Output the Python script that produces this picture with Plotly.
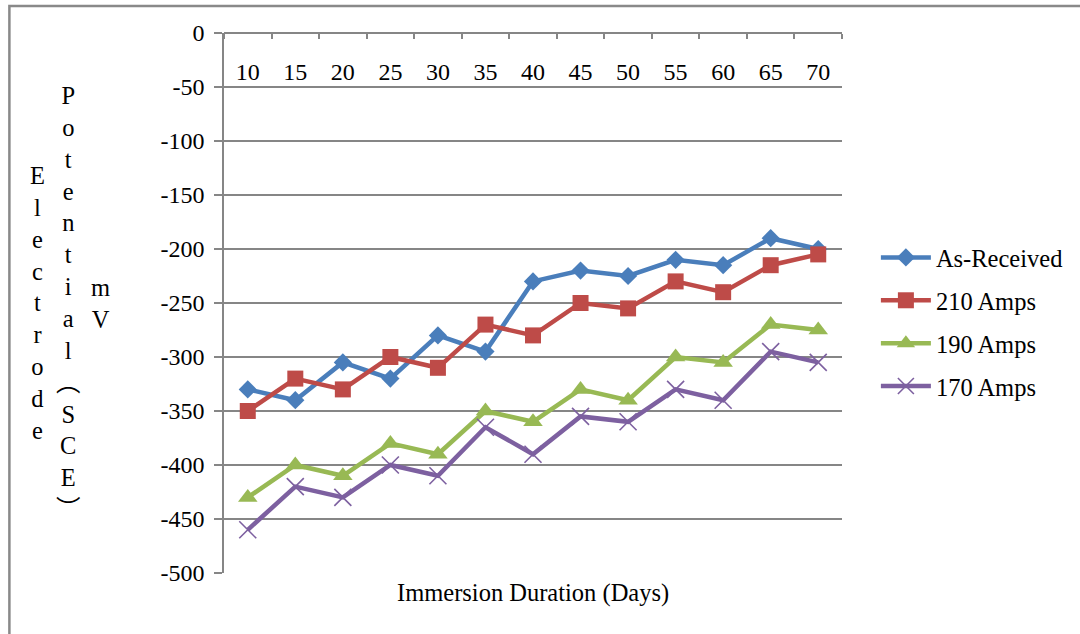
import plotly.graph_objects as go

days = ["10", "15", "20", "25", "30", "35", "40", "45", "50", "55", "60", "65", "70"]
as_received = [-330, -340, -305, -320, -280, -295, -230, -220, -225, -210, -215, -190, -200]
amps_210 = [-350, -320, -330, -300, -310, -270, -280, -250, -255, -230, -240, -215, -205]
amps_190 = [-430, -400, -410, -380, -390, -350, -360, -330, -340, -300, -305, -270, -275]
amps_170 = [-460, -420, -430, -400, -410, -365, -390, -355, -360, -330, -340, -295, -305]
y_ticks = [0, -50, -100, -150, -200, -250, -300, -350, -400, -450, -500]

FONT = "Liberation Serif, Times New Roman, serif"
GRID = "#868686"

series = [
    ("As-Received", as_received, "#4A7EBB", dict(symbol="diamond", size=14)),
    ("210 Amps", amps_210, "#BE4B48", dict(symbol="square", size=16)),
    ("190 Amps", amps_190, "#98B954", dict(symbol="triangle-up", size=17)),
    ("170 Amps", amps_170, "#7D60A0", dict(symbol="x-thin", size=17)),
]

fig = go.Figure()
for i, (name, vals, color, mk) in enumerate(series):
    marker = dict(color=color, **mk)
    if mk["symbol"] == "x-thin":
        marker["line"] = dict(color=color, width=1.6)
    fig.add_trace(go.Scatter(
        x=days, y=vals, name=name, mode="lines+markers",
        line=dict(color=color, width=4.5),
        marker=marker, legendgroup=f"g{i}",
    ))

fig.update_layout(
    width=1080, height=634,
    margin=dict(l=224, r=236, t=33, b=61),
    paper_bgcolor="white", plot_bgcolor="white",
    font=dict(family=FONT, size=24, color="black"),
    showlegend=True,
    legend=dict(x=(878 - 224) / 620, xanchor="left", y=(573 - 322) / 540, yanchor="middle",
                font=dict(family=FONT, size=24.5), tracegroupgap=8,
                itemwidth=50, bgcolor="rgba(0,0,0,0)"),
    xaxis=dict(
        type="category", anchor="free", position=1.0, side="bottom",
        range=[-0.5, 12.5],
        showline=True, linecolor=GRID, linewidth=1.5,
        ticks="outside", tickson="boundaries", ticklen=5, tickcolor=GRID, tickwidth=1.5,
        showgrid=False, zeroline=False, tickfont=dict(family=FONT, size=24),
        ticklabelstandoff=17,
    ),
    yaxis=dict(
        range=[-500, 0], tickvals=y_ticks, ticktext=[str(v) for v in y_ticks],
        showline=True, linecolor=GRID, linewidth=1.5,
        showgrid=True, gridcolor=GRID, gridwidth=1.5, zeroline=False,
        ticks="outside", ticklen=8, tickcolor=GRID, tickwidth=1.5,
        tickfont=dict(family=FONT, size=24), ticklabelstandoff=5,
    ),
)

# x-axis title at the bottom
fig.add_annotation(text="Immersion Duration (Days)", xref="paper", yref="paper",
                   x=0.5, y=-0.037, xanchor="center", yanchor="middle", showarrow=False,
                   font=dict(family=FONT, size=24.5))

# stacked vertical y-axis title, three columns
CJK = "font-family:'Noto Sans CJK JP'"
col1 = "<br>".join(list("Electrode"))
col2 = "<br>".join(list("Potential")
                   + [f"<span style=\"{CJK}\">︵</span>", "S", "C", "E",
                      f"<span style=\"{CJK}\">︶</span>"])
col3 = "<br>".join(list("mV"))
for txt, px in [(col1, 37), (col2, 68), (col3, 100)]:
    fig.add_annotation(text=txt, xref="paper", yref="paper",
                       x=(px - 224) / 620, y=0.5, xanchor="center", yanchor="middle",
                       showarrow=False, align="center",
                       font=dict(family=FONT, size=24.5))

# outer chart border (top and left visible)
fig.add_shape(type="rect", xref="paper", yref="paper",
              x0=(8.7 - 224) / 620, x1=2.0, y0=-1.0, y1=(573 - 6) / 540,
              line=dict(color="#898989", width=2.5), fillcolor="rgba(0,0,0,0)", layer="below")

fig.write_html("out.html")
